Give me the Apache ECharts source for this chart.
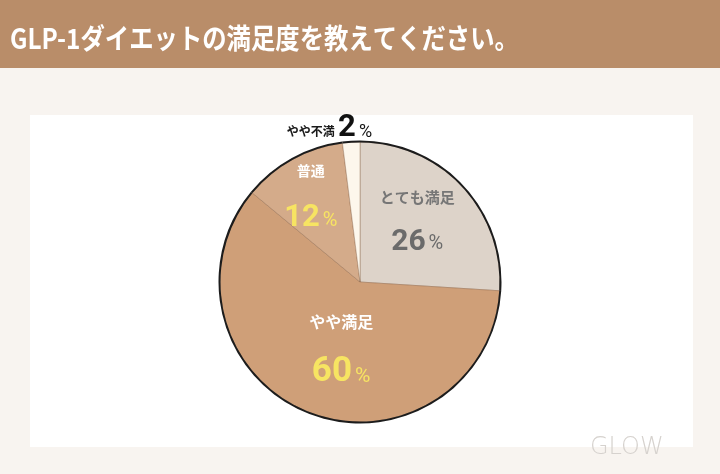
<!DOCTYPE html>
<html><head><meta charset="utf-8">
<script src="https://cdn.jsdelivr.net/npm/echarts@6/dist/echarts.min.js"></script>
<style>html,body{margin:0;padding:0;background:#f8f4f0;}#c{width:720px;height:474px;}</style>
</head><body><div id="c"></div>
<script>
const titleText = 'GLP-1ダイエットの満足度を教えてください。';
const categories = ['とても満足', 'やや満足', '普通', 'やや不満'];
const values = [26, 60, 12, 2];
const sliceColors = ['#ddd3c9', '#cf9f78', '#d4ab8a', '#fdf7ec'];
const labelNudges = [[4, -27], [8, -20], [-14, -40], [-26, -80]];

const F = '"Noto Sans CJK JP", "Noto Sans", sans-serif';
const N = 'Roboto, "Noto Sans", sans-serif';
const labelStyles = [
  {nameColor: '#767676', nameSize: 15, valColor: '#6b6b6b', valSize: 30, pctSize: 20, lh: 52, inline: false},
  {nameColor: '#ffffff', nameSize: 16, valColor: '#f7e462', valSize: 35, pctSize: 21, lh: 60, inline: false},
  {nameColor: '#ffffff', nameSize: 14, valColor: '#f7e462', valSize: 31, pctSize: 20, lh: 56, inline: false},
  {nameColor: '#1a1a1a', nameSize: 12, valColor: '#111111', valSize: 31, pctSize: 18, lh: 30, inline: true}
];

const data = categories.map((c, i) => {
  const s = labelStyles[i];
  return {
    name: c, value: values[i],
    itemStyle: {color: sliceColors[i]},
    label: {
      formatter: s.inline ? '{n|{b}} {v|{c}}{p|%}' : '{n|{b}}\n{v|{c}}{p|%}',
      rich: {
        n: {color: s.nameColor, fontSize: s.nameSize, fontWeight: 'bold', fontFamily: F, lineHeight: s.lh, verticalAlign: 'bottom', padding: s.inline ? [0, 0, 7, 0] : 0},
        v: {color: s.valColor, fontSize: s.valSize, fontWeight: 'bold', fontFamily: N, lineHeight: s.lh, verticalAlign: 'bottom'},
        p: {color: s.valColor, fontSize: s.pctSize, fontWeight: 'normal', fontFamily: N, lineHeight: s.lh, verticalAlign: 'bottom', padding: [0, 0, 3, 3]}
      }
    }
  };
});

const chart = echarts.init(document.getElementById('c'), null, {renderer: 'canvas'});
chart.setOption({
  backgroundColor: '#f8f4f0',
  animation: false,
  graphic: [
    {type: 'rect', shape: {x: 0, y: 0, width: 720, height: 68}, style: {fill: '#b98d69'}, z: -10},
    {type: 'rect', shape: {x: 30, y: 115, width: 663, height: 332}, style: {fill: '#ffffff'}, z: -10},
    {type: 'text', x: 10, y: 38, scaleX: 0.87, style: {text: titleText, fill: '#ffffff', font: 'bold 28px "Noto Sans CJK JP", sans-serif', verticalAlign: 'middle'}, z: 5},
    {type: 'text', left: 590, top: 436, style: {text: 'GLOW', fill: '#d6d2ce', font: '300 24px "DejaVu Sans", sans-serif'}, z: -5}
  ],
  series: [
    {
      type: 'pie', center: [360, 282], radius: [0, 140], startAngle: 90, clockwise: true,
      silent: true, z: 2,
      itemStyle: {borderColor: 'rgba(135,95,65,0.55)', borderWidth: 0.7},
      label: {show: true, position: 'inside', align: 'center'},
      labelLine: {show: false},
      labelLayout: function (p) { const d = labelNudges[p.dataIndex]; return {dx: d[0], dy: d[1]}; },
      data: data
    },
    {
      type: 'pie', center: [360, 282], radius: [139.5, 141.5], startAngle: 90, clockwise: true,
      silent: true, z: 3,
      itemStyle: {color: '#1c1c1c', borderWidth: 0},
      label: {show: false}, labelLine: {show: false},
      data: categories.map((c, i) => ({name: c, value: values[i]}))
    }
  ]
});
</script></body></html>
